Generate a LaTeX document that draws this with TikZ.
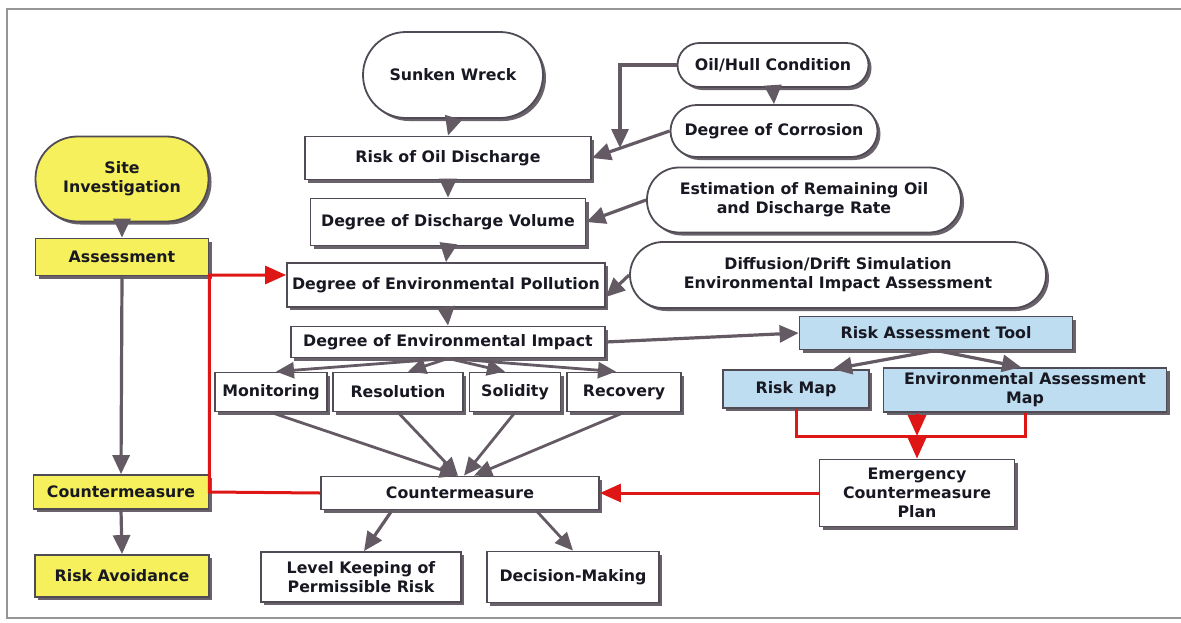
\documentclass[tikz,border=0pt]{standalone}
\usepackage{fontspec}
\setmainfont{DejaVu Sans}
\usetikzlibrary{arrows.meta,shadows,calc}
\definecolor{lc}{RGB}{100,90,100}
\definecolor{bd}{RGB}{80,75,84}
\definecolor{shd}{RGB}{105,98,106}
\definecolor{txt}{RGB}{24,24,34}
\definecolor{yel}{RGB}{246,240,92}
\definecolor{lblue}{RGB}{190,221,240}
\definecolor{rd}{RGB}{222,22,22}
\definecolor{frm}{RGB}{150,150,150}
\begin{document}
\begin{tikzpicture}[x=1pt,y=-1pt,
  every node/.style={font=\fontsize{15.8}{19}\selectfont\bfseries, text=txt, align=center, inner sep=0pt},
  box/.style={draw=bd, line width=1.8pt, fill=white, drop shadow={shadow xshift=3pt,shadow yshift=-3pt,fill=shd,opacity=1}},
  pill/.style={box, rounded corners=#1},
  ybox/.style={box, fill=yel},
  bbox/.style={box, fill=lblue},
  conn/.style={draw=lc, line width=3.2pt, -{Triangle[width=17pt,length=19pt,fill=lc]}},
  thinconn/.style={draw=lc, line width=2.8pt, -{Triangle[width=16pt,length=18pt,fill=lc]}},
  redline/.style={draw=rd, line width=3pt},
  redconn/.style={draw=rd, line width=3pt, -{Triangle[width=18pt,length=21pt,fill=rd]}},
]
\useasboundingbox (0,0) rectangle (1181,622);
\draw[frm, line width=1.5pt] (1181,9) -- (7,9) -- (7,618) -- (1181,618);

% central column
\node[pill=43pt, minimum width=180pt, minimum height=86pt] (wreck) at (453,75) {Sunken Wreck};
\node[box, minimum width=286pt, minimum height=43pt] (risk) at (448,158) {Risk of Oil Discharge};
\node[box, minimum width=275pt, minimum height=47pt] (ddv) at (448,222) {Degree of Discharge Volume};
\node[box, minimum width=318pt, minimum height=44pt] (pol) at (446,285) {Degree of Environmental Pollution};
\node[box, minimum width=314pt, minimum height=31pt] (imp) at (448,342) {Degree of Environmental Impact};

% right inputs
\node[pill=22pt, minimum width=191pt, minimum height=44pt] (oilhull) at (773,65) {Oil/Hull Condition};
\node[pill=26pt, minimum width=207pt, minimum height=52pt] (corr) at (774,131) {Degree of Corrosion};
\node[pill=32pt, minimum width=314pt, minimum height=65pt] (est) at (804,200) {Estimation of Remaining Oil\\and Discharge Rate};
\node[pill=33pt, minimum width=416pt, minimum height=66pt] (diff) at (838,275) {Diffusion/Drift Simulation\\Environmental Impact Assessment};

% left column
\node[pill=42pt, fill=yel, minimum width=173pt, minimum height=85pt] (site) at (122,179) {Site\\Investigation};
\node[ybox, minimum width=173pt, minimum height=37pt] (assess) at (122,257) {Assessment};
\node[ybox, minimum width=175pt, minimum height=34pt] (cmy) at (121,492) {Countermeasure};
\node[ybox, minimum width=174pt, minimum height=42pt] (avoid) at (122,576) {Risk Avoidance};

% measures
\node[box, minimum width=112pt, minimum height=39pt] (mon) at (271,392) {Monitoring};
\node[box, minimum width=130pt, minimum height=39pt] (res) at (398,392) {Resolution};
\node[box, minimum width=91pt, minimum height=39pt] (sol) at (515,392) {Solidity};
\node[box, minimum width=114pt, minimum height=39pt] (rec) at (624,392) {Recovery};

\node[box, minimum width=278pt, minimum height=33pt] (cm) at (460,493) {Countermeasure};
\node[box, minimum width=200pt, minimum height=50pt] (lk) at (361,577) {Level Keeping of\\Permissible Risk};
\node[box, minimum width=172pt, minimum height=51pt] (dm) at (573,577) {Decision-Making};

% risk tool side
\node[bbox, minimum width=273pt, minimum height=33pt] (rat) at (936,333) {Risk Assessment Tool};
\node[bbox, minimum width=146pt, minimum height=38pt] (rmap) at (796,389) {Risk Map};
\node[bbox, minimum width=283pt, minimum height=44pt] (eam) at (1025,390) {Environmental Assessment\\Map};
\node[box, minimum width=195pt, minimum height=67pt] (ecp) at (917,493) {Emergency\\Countermeasure\\Plan};

% central arrows
\draw[conn] (wreck.south) -- (risk.north);
\draw[conn] (risk.south) -- (ddv.north);
\draw[conn] (ddv.south) -- (pol.north);
\draw[conn] (pol.south) -- (imp.north);
\draw[conn] (site.south) -- (assess.north);

% right inputs arrows
\coordinate (oh) at (620,148);
\draw[conn] (oilhull.west) -| (oh);
\draw[conn] (oilhull.south) -- (corr.north);
\draw[conn] (corr.west) -- (risk.east);
\draw[conn] (est.west) -- (ddv.east);
\draw[conn] (diff.west) -- ($(pol.east)+(0,12)$);

% impact fan
\draw[thinconn] (imp.south) -- ($(mon.north)+(5,0)$);
\draw[thinconn] (imp.south) -- ($(res.north)+(10,0)$);
\draw[thinconn] (imp.south) -- ($(sol.north)+(-10,0)$);
\draw[thinconn] (imp.south) -- ($(rec.north)+(-8,0)$);

% into countermeasure
\draw[thinconn] (mon.south) -- ($(cm.north)+(-2,0)$);
\draw[thinconn] (res.south) -- ($(cm.north)+(-2,0)$);
\draw[thinconn] (sol.south) -- ($(cm.north)+(4,0)$);
\draw[thinconn] (rec.south) -- ($(cm.north)+(14,0)$);

% out of countermeasure
\draw[conn] ($(cm.south)+(-68,0)$) -- ($(lk.north)+(3,0)$);
\draw[thinconn] ($(cm.south)+(76,0)$) -- (dm.north);

% left column arrows
\draw[conn] (assess.south) -- (cmy.north);
\draw[conn] (cmy.south) -- (avoid.north);

% impact to risk tool
\draw[conn] (imp.east) -- (rat.west);
\draw[conn] (rat.south) -- ($(rmap.north)+(37,0)$);
\draw[conn] (rat.south) -- ($(eam.north)+(-4,0)$);

% red connectors
\draw[redconn] (cm.west) -- (cmy.east) |- ($(pol.west)+(0,-10)$);
\draw[redconn] (ecp.west) -- (cm.east);
\coordinate (j) at (917,436);
\coordinate (jt) at (917,414);
\draw[redline] (rmap.south) |- (j);
\draw[redline] (eam.south) |- (j);
\draw[redconn] (jt) -- (j);
\draw[redconn] (j) -- (ecp.north);
\end{tikzpicture}
\end{document}
